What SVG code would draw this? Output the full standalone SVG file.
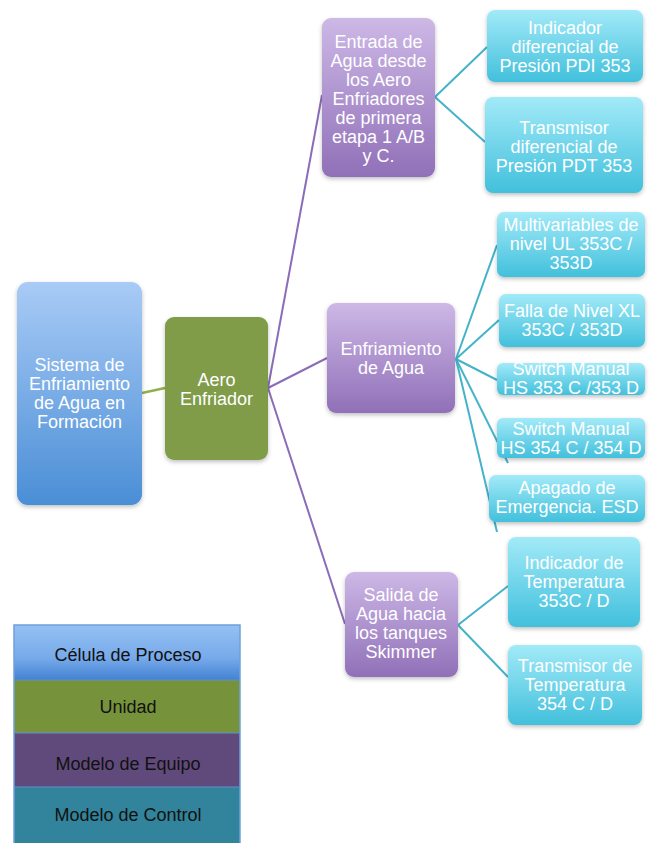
<svg xmlns="http://www.w3.org/2000/svg" width="653" height="843" viewBox="0 0 653 843">
<defs>
<linearGradient id="gBlue" x1="0" y1="0" x2="0" y2="1"><stop offset="0" stop-color="#a9cbf6"/><stop offset="1" stop-color="#4a8ed6"/></linearGradient>
<linearGradient id="gPurple" x1="0" y1="0" x2="0" y2="1"><stop offset="0" stop-color="#cdb8e6"/><stop offset="1" stop-color="#9070b8"/></linearGradient>
<linearGradient id="gCyan" x1="0" y1="0" x2="0" y2="1"><stop offset="0" stop-color="#a2eaf8"/><stop offset="1" stop-color="#42c0dc"/></linearGradient>
<linearGradient id="gLegBlue" x1="0" y1="0" x2="0" y2="1"><stop offset="0" stop-color="#95c0f3"/><stop offset="0.6" stop-color="#77aaea"/><stop offset="1" stop-color="#4382d2"/></linearGradient>
<filter id="sh" x="-10%" y="-10%" width="125%" height="125%"><feDropShadow dx="0" dy="2" stdDeviation="2" flood-color="#000" flood-opacity="0.25"/></filter>
<style>
.t{font-family:"Liberation Sans",Arial,sans-serif;font-size:18px;fill:#fff;text-anchor:middle}
.lt{font-family:"Liberation Sans",Arial,sans-serif;font-size:18px;fill:#111;text-anchor:middle}
.cp{stroke:#8a6cb8;stroke-width:2;fill:none}
.cc{stroke:#44b3c9;stroke-width:2;fill:none}
.cg{stroke:#8fb04c;stroke-width:2.5;fill:none}
</style>
</defs>
<g id="connectors">
<line class="cg" x1="142" y1="393" x2="165" y2="388"/>
<line class="cp" x1="268" y1="388" x2="322" y2="95"/>
<line class="cp" x1="268" y1="388" x2="327" y2="358"/>
<line class="cp" x1="268" y1="388" x2="345" y2="624"/>
<line class="cc" x1="435" y1="97" x2="487" y2="47"/>
<line class="cc" x1="435" y1="97" x2="485" y2="142"/>
<line class="cc" x1="456" y1="359" x2="497" y2="245"/>
<line class="cc" x1="456" y1="359" x2="499" y2="320"/>
<line class="cc" x1="456" y1="359" x2="497" y2="380"/>
<line class="cc" x1="456" y1="359" x2="508" y2="463"/>
<line class="cc" x1="456" y1="359" x2="497" y2="532"/>
<line class="cc" x1="458" y1="625" x2="508" y2="586"/>
<line class="cc" x1="458" y1="625" x2="508" y2="677"/>
</g>
<g id="n_sistema"><rect x="17" y="282" width="125" height="223" rx="11" fill="url(#gBlue)" filter="url(#sh)"/>
<text class="t" x="79.5" y="371">Sistema de</text><text class="t" x="79.5" y="390">Enfriamiento</text><text class="t" x="79.5" y="409">de Agua en</text><text class="t" x="79.5" y="428">Formación</text></g>
<g id="n_aero"><rect x="165" y="317" width="103" height="143" rx="9" fill="#809c4a" filter="url(#sh)"/>
<text class="t" x="216.5" y="386">Aero</text><text class="t" x="216.5" y="405">Enfriador</text></g>
<g id="n_entrada"><rect x="322" y="18" width="113" height="159" rx="9" fill="url(#gPurple)" filter="url(#sh)"/>
<text class="t" x="378.5" y="48">Entrada de</text><text class="t" x="378.5" y="67">Agua desde</text><text class="t" x="378.5" y="86">los Aero</text><text class="t" x="378.5" y="105">Enfriadores</text><text class="t" x="378.5" y="124">de primera</text><text class="t" x="378.5" y="143">etapa 1 A/B</text><text class="t" x="378.5" y="162">y C.</text></g>
<g id="n_enfriamiento"><rect x="327" y="303" width="128" height="110" rx="9" fill="url(#gPurple)" filter="url(#sh)"/>
<text class="t" x="391" y="355">Enfriamiento</text><text class="t" x="391" y="374">de Agua</text></g>
<g id="n_salida"><rect x="345" y="572" width="113" height="105" rx="9" fill="url(#gPurple)" filter="url(#sh)"/>
<text class="t" x="401" y="601">Salida de</text><text class="t" x="401" y="620">Agua hacia</text><text class="t" x="401" y="639">los tanques</text><text class="t" x="401" y="658">Skimmer</text></g>
<g id="n_pdi"><rect x="487" y="10" width="156" height="72" rx="8" fill="url(#gCyan)" filter="url(#sh)"/>
<text class="t" x="565" y="34">Indicador</text><text class="t" x="565" y="53">diferencial de</text><text class="t" x="565" y="72">Presión PDI 353</text></g>
<g id="n_pdt"><rect x="485" y="97" width="158" height="96" rx="8" fill="url(#gCyan)" filter="url(#sh)"/>
<text class="t" x="564" y="134">Transmisor</text><text class="t" x="564" y="153">diferencial de</text><text class="t" x="564" y="172">Presión PDT 353</text></g>
<g id="n_ul"><rect x="497" y="212" width="148" height="65" rx="7" fill="url(#gCyan)" filter="url(#sh)"/>
<text class="t" x="571" y="231">Multivariables de</text><text class="t" x="571" y="250">nivel UL 353C /</text><text class="t" x="571" y="269">353D</text></g>
<g id="n_xl"><rect x="499" y="294" width="146" height="53" rx="7" fill="url(#gCyan)" filter="url(#sh)"/>
<text class="t" x="572" y="317">Falla de Nivel XL</text><text class="t" x="572" y="336">353C / 353D</text></g>
<g id="n_hs353"><rect x="497" y="363" width="148" height="32" rx="6" fill="url(#gCyan)" filter="url(#sh)"/>
<text class="t" x="571" y="375">Switch Manual</text><text class="t" x="571" y="394">HS 353 C /353 D</text></g>
<g id="n_hs354"><rect x="497" y="418" width="148" height="40" rx="6" fill="url(#gCyan)" filter="url(#sh)"/>
<text class="t" x="571" y="435">Switch Manual</text><text class="t" x="571" y="454">HS 354 C / 354 D</text></g>
<g id="n_esd"><rect x="489" y="475" width="156" height="47" rx="7" fill="url(#gCyan)" filter="url(#sh)"/>
<text class="t" x="567" y="494">Apagado de</text><text class="t" x="567" y="513">Emergencia. ESD</text></g>
<g id="n_ti"><rect x="508" y="537" width="132" height="90" rx="8" fill="url(#gCyan)" filter="url(#sh)"/>
<text class="t" x="574" y="569">Indicador de</text><text class="t" x="574" y="588">Temperatura</text><text class="t" x="574" y="607">353C / D</text></g>
<g id="n_tt"><rect x="508" y="645" width="134" height="80" rx="8" fill="url(#gCyan)" filter="url(#sh)"/>
<text class="t" x="575" y="672">Transmisor de</text><text class="t" x="575" y="691">Temperatura</text><text class="t" x="575" y="710">354 C / D</text></g>
<g id="legend">
<rect x="14" y="625" width="226" height="55" fill="url(#gLegBlue)"/>
<rect x="14" y="680" width="226" height="53" fill="#76933c"/>
<rect x="14" y="733" width="226" height="54" fill="#604a7b"/>
<rect x="14" y="787" width="226" height="56" fill="#31849b"/>
<rect x="14" y="625" width="226" height="220" fill="none" stroke="#6fa0dc" stroke-width="1.5"/>
<line x1="14" y1="680" x2="240" y2="680" stroke="#5f8fd0" stroke-width="1"/>
<line x1="14" y1="733" x2="240" y2="733" stroke="#5f8fd0" stroke-width="1"/>
<line x1="14" y1="787" x2="240" y2="787" stroke="#5f8fd0" stroke-width="1"/>
<text class="lt" x="128" y="661">Célula de Proceso</text>
<text class="lt" x="128" y="713">Unidad</text>
<text class="lt" x="128" y="770">Modelo de Equipo</text>
<text class="lt" x="128" y="821">Modelo de Control</text>
</g>
</svg>
